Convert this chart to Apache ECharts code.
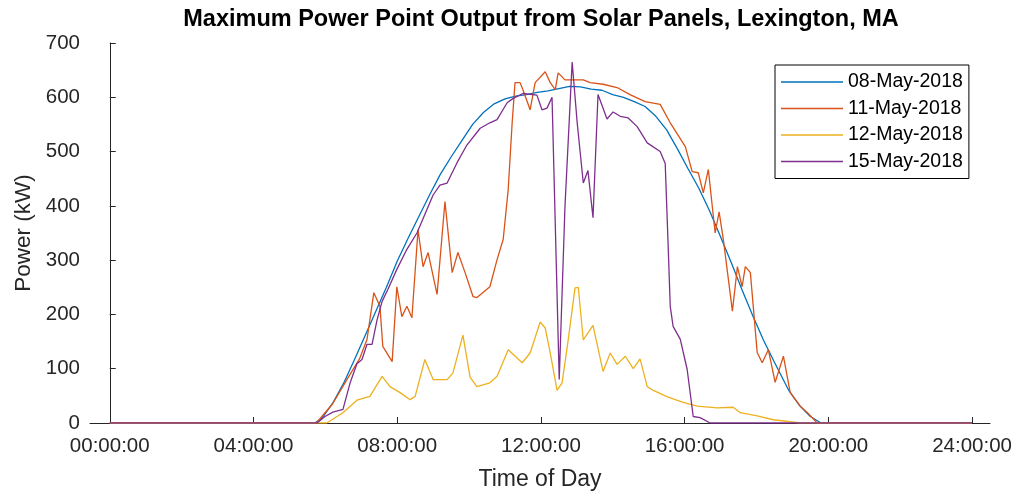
<!DOCTYPE html>
<html>
<head>
<meta charset="utf-8">
<script src="https://cdn.jsdelivr.net/npm/echarts@6/dist/echarts.min.js"></script>
<style>
  html, body { margin: 0; padding: 0; background: #fff; }
  #chart { width: 1019px; height: 496px; }
</style>
</head>
<body>
<div id="chart"></div>
<script>
// time of day in hours, power in kW
const may08Time = [0, 5.7, 5.9, 6.2, 6.5, 6.8, 7.1, 7.4, 7.7, 8.0, 8.3, 8.6, 8.9, 9.2, 9.5, 9.8, 10.1, 10.4, 10.7, 11.0, 11.3, 11.6, 11.9, 12.2, 12.5, 12.8, 13.1, 13.4, 13.7, 14.0, 14.3, 14.6, 14.9, 15.2, 15.5, 15.8, 16.1, 16.4, 16.7, 17.0, 17.3, 17.6, 17.9, 18.2, 18.5, 18.9, 19.2, 19.5, 19.8, 24];
const may08Power = [0, 0, 8, 36, 72, 115, 160, 205, 250, 298, 340, 380, 420, 458, 490, 520, 550, 572, 588, 597, 602, 605, 609, 612, 616, 620, 619, 615, 613, 605, 600, 592, 583, 565, 540, 505, 468, 432, 390, 343, 295, 245, 197, 152, 112, 60, 32, 12, 0, 0];

const may11Time = [0, 5.75, 6.2, 6.6, 6.95, 7.16, 7.35, 7.52, 7.6, 7.86, 7.99, 8.13, 8.27, 8.41, 8.58, 8.72, 8.86, 9.11, 9.33, 9.53, 9.69, 9.89, 10.11, 10.22, 10.58, 10.78, 10.95, 11.09, 11.2, 11.28, 11.42, 11.5, 11.7, 11.84, 12.12, 12.26, 12.4, 12.48, 12.67, 12.9, 13.18, 13.37, 13.73, 14.12, 14.48, 14.9, 15.32, 15.6, 16.02, 16.21, 16.38, 16.52, 16.66, 16.85, 16.96, 17.08, 17.33, 17.47, 17.6, 17.69, 17.83, 18.02, 18.16, 18.33, 18.52, 18.75, 18.94, 19.22, 19.42, 19.69, 24];
const may11Power = [0, 0, 35, 80, 118, 154, 240, 215, 141, 113, 251, 196, 215, 194, 356, 288, 314, 237, 408, 277, 314, 277, 233, 231, 251, 301, 338, 430, 553, 627, 627, 614, 577, 627, 647, 627, 614, 645, 632, 632, 632, 627, 624, 618, 605, 592, 587, 553, 509, 463, 461, 424, 467, 350, 389, 337, 206, 288, 251, 288, 277, 130, 111, 135, 75, 123, 56, 31, 19, 0, 0];

const may12Time = [0, 6.04, 6.49, 6.88, 7.24, 7.58, 7.8, 8.08, 8.36, 8.5, 8.77, 9.0, 9.39, 9.55, 9.83, 10.03, 10.22, 10.58, 10.78, 11.09, 11.48, 11.7, 11.98, 12.12, 12.26, 12.45, 12.59, 12.76, 12.95, 13.04, 13.18, 13.45, 13.73, 13.93, 14.12, 14.35, 14.57, 14.76, 14.96, 15.13, 15.52, 15.96, 16.35, 16.91, 17.35, 17.55, 18.02, 18.47, 19.22, 24];
const may12Power = [0, 0, 19, 42, 49, 86, 67, 56, 43, 49, 117, 80, 80, 92, 162, 84, 67, 74, 86, 135, 111, 129, 186, 175, 129, 60, 74, 153, 249, 250, 153, 180, 95, 129, 108, 123, 100, 118, 67, 60, 48, 38, 31, 28, 29, 19, 13, 6, 0, 0];

const may15Time = [0, 5.77, 5.99, 6.21, 6.49, 6.69, 6.88, 7.02, 7.16, 7.3, 7.44, 7.58, 7.74, 7.99, 8.27, 8.55, 9.0, 9.19, 9.39, 9.67, 9.94, 10.31, 10.58, 10.78, 11.06, 11.23, 11.5, 11.89, 12.03, 12.17, 12.31, 12.51, 12.67, 12.87, 13.01, 13.18, 13.31, 13.45, 13.59, 13.84, 14.01, 14.21, 14.43, 14.68, 14.96, 15.32, 15.46, 15.54, 15.6, 15.68, 15.88, 16.07, 16.24, 16.43, 16.71, 24];
const may15Power = [0, 0, 12, 20, 25, 74, 109, 117, 145, 145, 190, 224, 246, 283, 320, 350, 420, 438, 442, 480, 512, 543, 553, 559, 590, 598, 607, 604, 577, 580, 600, 80, 399, 665, 553, 442, 465, 378, 605, 560, 573, 565, 562, 546, 516, 500, 478, 330, 215, 178, 154, 99, 12, 10, 0, 0];

const seriesNames = ['08-May-2018', '11-May-2018', '12-May-2018', '15-May-2018'];
const seriesColors = ['#0072BD', '#D95319', '#EDB120', '#7E2F8E'];
const xTicks = [0, 4, 8, 12, 16, 20, 24];

const FONT = 'Liberation Sans, Arial, Helvetica, sans-serif';
const TEXT = '#262626';

function zip(t, v) {
  return t.map((h, i) => [h, v[i]]);
}
function hhmmss(h) {
  return String(h).padStart(2, '0') + ':00:00';
}

const chart = echarts.init(document.getElementById('chart'));
const lists = [
  [may08Time, may08Power],
  [may11Time, may11Power],
  [may12Time, may12Power],
  [may15Time, may15Power],
];

const option = {
  animation: false,
  backgroundColor: '#fff',
  title: {
    text: 'Maximum Power Point Output from Solar Panels, Lexington, MA',
    left: 541,
    top: 8,
    padding: 0,
    textAlign: 'center',
    textStyle: { fontFamily: FONT, fontSize: 23.5, fontWeight: 'bold', color: '#000' },
  },
  legend: {
    data: seriesNames,
    orient: 'vertical',
    left: 775,
    top: 65,
    padding: [7, 6, 7, 6],
    icon: 'rect',
    itemWidth: 62,
    itemHeight: 1.5,
    itemGap: 6.5,
    borderColor: '#000',
    borderWidth: 1,
    backgroundColor: '#fff',
    textStyle: { fontFamily: FONT, fontSize: 19.5, color: '#000' },
  },
  grid: { left: 90, right: 29, top: 43, bottom: 72 },
  xAxis: {
    type: 'value',
    min: -0.55,
    max: 24.5,
    name: 'Time of Day',
    nameLocation: 'middle',
    nameGap: 45,
    nameTextStyle: { fontFamily: FONT, fontSize: 23, color: TEXT },
    axisLine: { lineStyle: { color: TEXT, width: 1 } },
    axisTick: { inside: true, length: 6, customValues: xTicks, lineStyle: { color: TEXT } },
    axisLabel: {
      customValues: xTicks,
      margin: 13,
      fontFamily: FONT,
      fontSize: 20.5,
      color: TEXT,
      formatter: hhmmss,
    },
    splitLine: { show: false },
  },
  yAxis: {
    type: 'value',
    min: 0,
    max: 700,
    interval: 100,
    name: 'Power (kW)',
    nameLocation: 'middle',
    nameGap: 54,
    nameTextStyle: { fontFamily: FONT, fontSize: 22.5, color: TEXT },
    axisLine: { show: true, lineStyle: { color: TEXT, width: 1 } },
    axisTick: { show: true, inside: true, length: 6, lineStyle: { color: TEXT } },
    axisLabel: { margin: 10, fontFamily: FONT, fontSize: 20.5, color: TEXT },
    splitLine: { show: false },
  },
  series: lists.map((d, i) => ({
    name: seriesNames[i],
    type: 'line',
    symbol: 'none',
    color: seriesColors[i],
    lineStyle: { width: 1.3, color: seriesColors[i] },
    data: zip(d[0], d[1]),
  })),
};

chart.setOption(option);
</script>
</body>
</html>
